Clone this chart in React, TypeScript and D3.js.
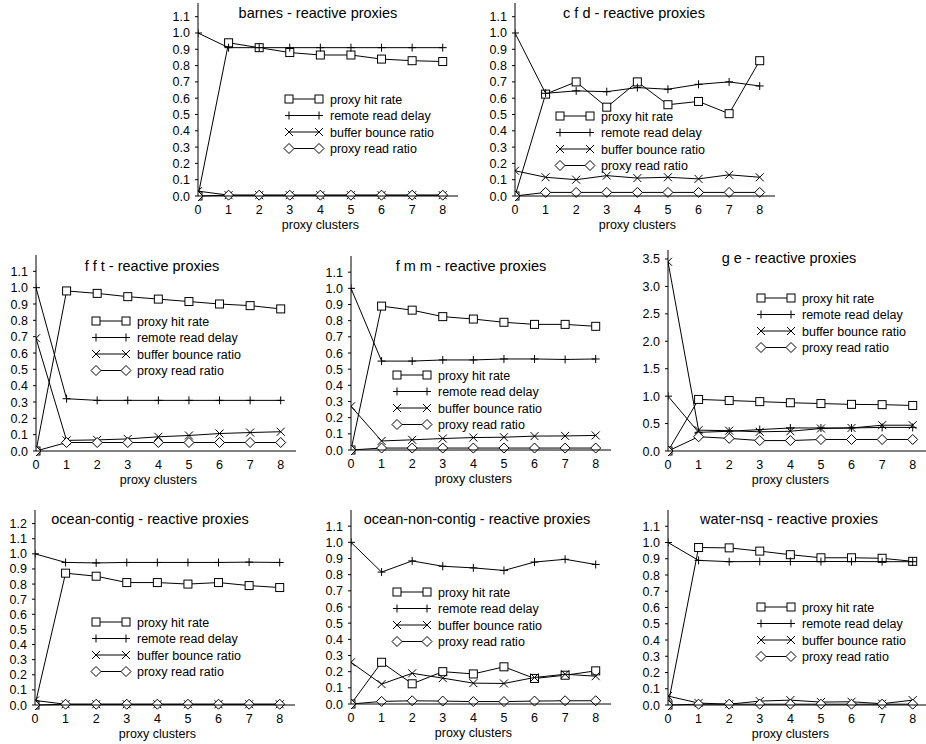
import React from 'react';
import * as d3 from 'd3';

// proxy cluster counts on the x axis
const clusters = [0, 1, 2, 3, 4, 5, 6, 7, 8];

const seriesNames = ['proxy hit rate', 'remote read delay', 'buffer bounce ratio', 'proxy read ratio'];
const seriesMarks = ['square', 'plus', 'cross', 'diamond'];

const barnesHit = [0.0, 0.94, 0.91, 0.88, 0.865, 0.865, 0.84, 0.83, 0.825];
const barnesDelay = [1.0, 0.91, 0.91, 0.91, 0.91, 0.91, 0.91, 0.91, 0.91];
const barnesBounce = [0.03, 0.005, 0.005, 0.005, 0.005, 0.005, 0.005, 0.005, 0.005];
const barnesRead = [0.0, 0.005, 0.005, 0.005, 0.005, 0.005, 0.005, 0.005, 0.005];

const cfdHit = [0.0, 0.625, 0.7, 0.545, 0.7, 0.56, 0.58, 0.505, 0.83];
const cfdDelay = [1.0, 0.63, 0.645, 0.64, 0.665, 0.655, 0.685, 0.7, 0.675];
const cfdBounce = [0.155, 0.115, 0.1, 0.125, 0.11, 0.115, 0.105, 0.13, 0.115];
const cfdRead = [0.0, 0.022, 0.022, 0.022, 0.022, 0.022, 0.022, 0.022, 0.022];

const fftHit = [0.0, 0.98, 0.965, 0.945, 0.93, 0.915, 0.9, 0.89, 0.87];
const fftDelay = [1.0, 0.32, 0.31, 0.31, 0.31, 0.31, 0.31, 0.31, 0.31];
const fftBounce = [0.69, 0.065, 0.068, 0.074, 0.087, 0.095, 0.107, 0.113, 0.118];
const fftRead = [0.0, 0.052, 0.052, 0.052, 0.052, 0.052, 0.052, 0.052, 0.052];

const fmmHit = [0.0, 0.89, 0.865, 0.825, 0.81, 0.79, 0.777, 0.777, 0.765];
const fmmDelay = [1.0, 0.55, 0.55, 0.557, 0.557, 0.563, 0.563, 0.56, 0.563];
const fmmBounce = [0.27, 0.056, 0.063, 0.071, 0.077, 0.079, 0.086, 0.087, 0.09];
const fmmRead = [0.0, 0.012, 0.012, 0.012, 0.012, 0.012, 0.012, 0.012, 0.012];

const geHit = [0.0, 0.94, 0.92, 0.9, 0.88, 0.865, 0.85, 0.845, 0.83];
const geDelay = [1.0, 0.34, 0.36, 0.39, 0.42, 0.42, 0.42, 0.43, 0.43];
const geBounce = [3.45, 0.38, 0.37, 0.35, 0.36, 0.41, 0.42, 0.47, 0.47];
const geRead = [0.0, 0.26, 0.23, 0.19, 0.19, 0.21, 0.21, 0.21, 0.21];

const oceanHit = [0.0, 0.872, 0.852, 0.81, 0.81, 0.8, 0.81, 0.79, 0.777];
const oceanDelay = [1.0, 0.943, 0.94, 0.943, 0.943, 0.943, 0.943, 0.945, 0.943];
const oceanBounce = [0.03, 0.005, 0.005, 0.005, 0.005, 0.005, 0.005, 0.005, 0.005];
const oceanRead = [0.0, 0.005, 0.005, 0.005, 0.005, 0.005, 0.005, 0.005, 0.005];

const oncHit = [0.0, 0.258, 0.125, 0.2, 0.186, 0.23, 0.158, 0.178, 0.205];
const oncDelay = [1.0, 0.816, 0.885, 0.852, 0.842, 0.826, 0.878, 0.895, 0.863];
const oncBounce = [0.258, 0.123, 0.19, 0.16, 0.129, 0.127, 0.164, 0.184, 0.172];
const oncRead = [0.0, 0.016, 0.02, 0.018, 0.015, 0.015, 0.018, 0.02, 0.02];

const waterHit = [0.0, 0.969, 0.967, 0.947, 0.925, 0.906, 0.906, 0.903, 0.884];
const waterDelay = [1.0, 0.89, 0.882, 0.883, 0.883, 0.883, 0.883, 0.882, 0.882];
const waterBounce = [0.055, 0.012, 0.005, 0.024, 0.03, 0.018, 0.02, 0.008, 0.03];
const waterRead = [0.0, 0.005, 0.005, 0.005, 0.005, 0.005, 0.005, 0.005, 0.005];

const ticksTo11 = [0, 0.1, 0.2, 0.3, 0.4, 0.5, 0.6, 0.7, 0.8, 0.9, 1.0, 1.1];
const ticksTo12 = [0, 0.1, 0.2, 0.3, 0.4, 0.5, 0.6, 0.7, 0.8, 0.9, 1.0, 1.1, 1.2];
const ticksGe = [0, 0.5, 1.0, 1.5, 2.0, 2.5, 3.0, 3.5];

// layout of each small chart: origin, axis height, top of y domain, title and legend spots
const panels = [
  { id: 'barnes', title: 'barnes - reactive proxies', ox: 198, oy: 196, h: 193, yTop: 1.184, ticks: ticksTo11, tx: 318, ty: 18, lx: 289, ly: 99, data: [barnesHit, barnesDelay, barnesBounce, barnesRead] },
  { id: 'cfd', title: 'c f d - reactive proxies', ox: 515, oy: 196, h: 193, yTop: 1.184, ticks: ticksTo11, tx: 634, ty: 18, lx: 560, ly: 116, data: [cfdHit, cfdDelay, cfdBounce, cfdRead] },
  { id: 'fft', title: 'f f t - reactive proxies', ox: 36, oy: 451, h: 196, yTop: 1.2, ticks: ticksTo11, tx: 152, ty: 271, lx: 96, ly: 321, data: [fftHit, fftDelay, fftBounce, fftRead] },
  { id: 'fmm', title: 'f m m - reactive proxies', ox: 351, oy: 450, h: 194, yTop: 1.2, ticks: ticksTo11, tx: 471, ty: 271, lx: 397, ly: 375, data: [fmmHit, fmmDelay, fmmBounce, fmmRead] },
  { id: 'ge', title: 'g e - reactive proxies', ox: 668, oy: 451, h: 201, yTop: 3.664, ticks: ticksGe, tx: 789, ty: 263, lx: 761, ly: 298, data: [geHit, geDelay, geBounce, geRead] },
  { id: 'oc', title: 'ocean-contig - reactive proxies', ox: 35, oy: 705, h: 195, yTop: 1.29, ticks: ticksTo12, tx: 150, ty: 524, lx: 96, ly: 622, data: [oceanHit, oceanDelay, oceanBounce, oceanRead] },
  { id: 'onc', title: 'ocean-non-contig - reactive proxies', ox: 351, oy: 704, h: 194, yTop: 1.2, ticks: ticksTo11, tx: 477, ty: 524, lx: 397, ly: 592, data: [oncHit, oncDelay, oncBounce, oncRead] },
  { id: 'water', title: 'water-nsq - reactive proxies', ox: 668, oy: 705, h: 195, yTop: 1.2, ticks: ticksTo11, tx: 789, ty: 524, lx: 761, ly: 607, data: [waterHit, waterDelay, waterBounce, waterRead] },
];

const ink = '#000';
const font = '"Liberation Sans", Arial, Helvetica, sans-serif';

function Marker({ kind, x, y }: { kind: string; x: number; y: number }) {
  const s = 4;
  if (kind === 'square')
    return <rect x={x - s} y={y - s} width={2 * s} height={2 * s} fill="#fff" stroke={ink} strokeWidth={1} />;
  if (kind === 'plus')
    return <path d={`M${x - s},${y}H${x + s}M${x},${y - s}V${y + s}`} stroke={ink} strokeWidth={1} />;
  if (kind === 'cross')
    return <path d={`M${x - s},${y - s}L${x + s},${y + s}M${x - s},${y + s}L${x + s},${y - s}`} stroke={ink} strokeWidth={1} />;
  const r = 5;
  return <path d={`M${x},${y - r}L${x + r},${y}L${x},${y + r}L${x - r},${y}Z`} fill="#fff" stroke={ink} strokeWidth={1} />;
}

function Panel({ p }: { p: typeof panels[number] }) {
  const x = d3.scaleLinear().domain([0, 8.5]).range([p.ox, p.ox + 260]);
  const y = d3.scaleLinear().domain([0, p.yTop]).range([p.oy, p.oy - p.h]);
  const fmt = d3.format('.1f');
  const clipId = `clip-${p.id}`;

  return (
    <g fontFamily={font} fill={ink}>
      <clipPath id={clipId}>
        <rect x={p.ox} y={p.oy - p.h - 10} width={270} height={p.h + 20} />
      </clipPath>

      {/* series, clipped at the y axis */}
      <g clipPath={`url(#${clipId})`}>
        {p.data.map((vals, si) => {
          const line = d3.line<number>().x((_, i) => x(clusters[i])).y(v => y(v));
          return (
            <g key={si}>
              <path d={line(vals) || ''} fill="none" stroke={ink} strokeWidth={1} />
              {vals.map((v, i) => <Marker key={i} kind={seriesMarks[si]} x={x(clusters[i])} y={y(v)} />)}
            </g>
          );
        })}
      </g>

      {/* axes */}
      <line x1={p.ox} x2={p.ox} y1={p.oy} y2={p.oy - p.h} stroke={ink} />
      <line x1={p.ox} x2={p.ox + 260} y1={p.oy} y2={p.oy} stroke={ink} />
      {p.ticks.map(t => (
        <g key={t}>
          <line x1={p.ox - 3} x2={p.ox} y1={y(t)} y2={y(t)} stroke={ink} />
          <text x={p.ox - 8} y={y(t) + 4.5} textAnchor="end" fontSize={12.5}>{fmt(t)}</text>
        </g>
      ))}
      {clusters.map(c => (
        <text key={c} x={x(c)} y={p.oy + 18} textAnchor="middle" fontSize={12.5}>{c}</text>
      ))}
      <text x={x(4)} y={p.oy + 33} textAnchor="middle" fontSize={12.5}>proxy clusters</text>
      <text x={p.tx} y={p.ty} textAnchor="middle" fontSize={14.5}>{p.title}</text>

      {/* legend */}
      {seriesNames.map((name, si) => {
        const ry = p.ly + si * 16.5;
        return (
          <g key={name}>
            <line x1={p.lx} x2={p.lx + 30} y1={ry} y2={ry} stroke={ink} />
            <Marker kind={seriesMarks[si]} x={p.lx} y={ry} />
            <Marker kind={seriesMarks[si]} x={p.lx + 30} y={ry} />
            <text x={p.lx + 41} y={ry + 4.5} fontSize={12.5}>{name}</text>
          </g>
        );
      })}
    </g>
  );
}

export default function App() {
  return (
    <svg width={926} height={744} style={{ position: 'absolute', left: 0, top: 0, background: '#fff' }}>
      <rect width={926} height={744} fill="#fff" />
      {panels.map(p => <Panel key={p.id} p={p} />)}
    </svg>
  );
}
